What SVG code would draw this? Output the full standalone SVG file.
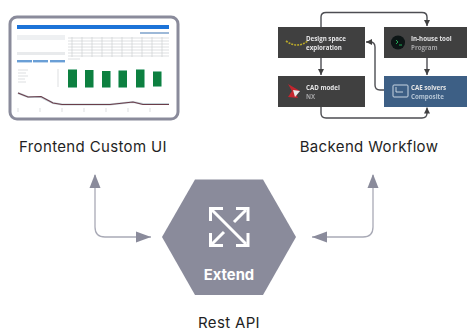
<svg xmlns="http://www.w3.org/2000/svg" width="471" height="332" viewBox="0 0 471 332">
<style>
.lbl{font-family:"Inter","Liberation Sans",sans-serif;font-size:15px;letter-spacing:.35px;fill:#1f1f24;text-anchor:middle}
.hx{font-family:"Inter","Liberation Sans",sans-serif;font-size:14.8px;font-weight:700;fill:#fff;text-anchor:middle}
.conn{fill:none;stroke:#a9aab6;stroke-width:1.3}
.wf{fill:none;stroke:#4d4e52;stroke-width:1.4}
.box{fill:#3f3f41}
.t1{font-family:"Open Sans","Liberation Sans",sans-serif;font-size:6.2px;font-weight:700;fill:#e6e6e6}
.t2{font-family:"Open Sans","Liberation Sans",sans-serif;font-size:6.2px;font-weight:700;fill:#a5a5a5}
.bar{fill:#0a8040}
.rule{stroke:#c8cacf;stroke-width:.6}
</style>
<defs>
<filter id="soft" x="-5%" y="-5%" width="110%" height="110%"><feGaussianBlur stdDeviation="0.5"/></filter>
<filter id="soft2" x="-5%" y="-5%" width="110%" height="110%"><feGaussianBlur stdDeviation="0.3"/></filter>
<marker id="w" viewBox="0 0 6 6" refX="6" refY="3" markerWidth="6" markerHeight="6" markerUnits="userSpaceOnUse" orient="auto"><path d="M0 0L6 3L0 6z" fill="#3f3f41"/></marker>
</defs>
<rect width="471" height="332" fill="#fff"/>

<g id="frontend">
<rect x="10" y="17" width="168" height="102" rx="7" fill="#fff" stroke="#8a8b9b" stroke-width="3"/>
<g filter="url(#soft)">
<rect x="17" y="25" width="152" height="4" fill="#1a73d8"/>
<rect x="140" y="32" width="29" height="2" fill="#9db9d8"/>
<rect x="17" y="35" width="48" height="5" fill="#eef0f2"/>
<rect x="17" y="52" width="48" height="3" fill="#e8eaec"/>
<rect x="17" y="60" width="15" height="2.4" fill="#6a9fd6"/><rect x="33" y="60" width="15" height="2.4" fill="#6a9fd6"/><rect x="50" y="60" width="15" height="2.4" fill="#6a9fd6"/>
<path class="rule" d="M68 38H169M68 41H169M68 44H169M68 47H169M68 50H169M68 53H169M68 56H169M72 37V57M82 37V57M92 37V57M102 37V57M112 37V57M122 37V57M132 37V57M142 37V57M152 37V57M162 37V57M68 59H80"/>
<path class="rule" d="M18 70H28M18 73H26M18 76H28M18 79H25M18 82H26M58 69V87M18 108V112M40 108V112M62 108V112M84 108V112M106 108V112M128 108V112M150 108V112"/>
<rect class="bar" x="68" y="69.500" width="9" height="18"/>
<rect class="bar" x="85" y="70" width="8.500" height="17.500"/>
<rect class="bar" x="102" y="71" width="8.500" height="16.500"/>
<rect class="bar" x="118.500" y="70.500" width="8.500" height="17"/>
<rect class="bar" x="136" y="69.500" width="8.500" height="18"/>
<rect class="bar" x="153" y="71.500" width="8.500" height="15"/>
<path d="M18 93L28 97H41L53 103L62 104.500H110L133 102L143 104H169" fill="none" stroke="#c6d3d8" stroke-width="2"/>
<path d="M18 93L28 97L41 96.500L53 103L62 104.500H110L133 102L143 104.500H169" fill="none" stroke="#6a3c4a" stroke-width="1.100"/>
</g>
</g>

<g id="backend-connectors" filter="url(#soft2)">
<path class="wf" d="M321 27V17Q321 12.500 326 12.500H422Q427 12.500 427 17V26" marker-end="url(#w)"/>
<path class="wf" d="M321 58V75" marker-end="url(#w)"/>
<path class="wf" d="M427 58V75" marker-end="url(#w)"/>
<path class="wf" d="M321 107V113Q321 118 326 118H422Q427 118 427 113V107.500" marker-end="url(#w)"/>
<path class="wf" d="M384 90H380Q375 90 375 85V47Q375 42 370 42H366" marker-end="url(#w)"/>
</g>
<g id="design-space" filter="url(#soft2)">
<rect class="box" x="278" y="27" width="87" height="31"/>
<path d="M286 41Q297 49 308 41" fill="none" stroke="#b9a82a" stroke-width="1.600" stroke-dasharray="2 1"/>
<text class="t1" x="306" y="41">Design space</text><text class="t1" x="306" y="49.500">exploration</text>
</g>
<g id="in-house" filter="url(#soft2)">
<rect class="box" x="384" y="27" width="83" height="31"/>
<circle cx="398" cy="42.500" r="7" fill="#0a1412"/>
<path d="M396 40L398 42L396 44M399 45H402" fill="none" stroke="#2fd06a" stroke-width=".8"/>
<text class="t1" x="411" y="41">In-house tool</text><text class="t2" x="411" y="49.500">Program</text>
</g>
<g id="cad-model" filter="url(#soft2)">
<rect class="box" x="278" y="76" width="87" height="31"/>
<path d="M288 84L300 91L295 92L298 98L288 97L292 91z" fill="#c4262e"/><path d="M293 90L300 91L295 97z" fill="#e8e8e8"/>
<text class="t1" x="306" y="90">CAD model</text><text class="t2" x="306" y="98.500">NX</text>
</g>
<g id="cae-solvers" filter="url(#soft2)">
<rect x="384" y="76" width="83" height="31" fill="#3d5f85"/>
<rect x="393" y="85" width="15" height="12" rx="1" fill="none" stroke="#c9d6e2" stroke-width="1"/>
<path d="M396 87V92H403" fill="none" stroke="#e6edf3" stroke-width=".8"/>
<text class="t1" x="411" y="90">CAE solvers</text><text class="t2" x="411" y="98.500" style="fill:#b5c5d5">Composite</text>
</g>

<g id="connectors">
<path class="conn" d="M151 237H105Q95 237 95 227V175"/>
<path d="M95 174L100.500 188H89.500z" fill="#8a8b9b"/>
<path d="M151 237L136 231.500V242.500z" fill="#8a8b9b"/>
<path class="conn" d="M312 237H363Q373 237 373 227V175"/>
<path d="M373 174L378.500 188H367.500z" fill="#8a8b9b"/>
<path d="M312 237L327 231.500V242.500z" fill="#8a8b9b"/>
</g>

<g id="extend">
<polygon points="162,237 195,179.500 263,179.500 296,237 263,295 195,295" fill="#8a8b9b"/>
<path d="M212 210L246 244" fill="none" stroke="#fff" stroke-width="3"/>
<path d="M246 210L234 222M212 244L224 232" fill="none" stroke="#fff" stroke-width="3"/>
<path d="M210.500 221V208.500H223M236 208.500H248V221M210.500 233V245.500H223M236 245.500H248V233" fill="none" stroke="#fff" stroke-width="3"/>
<text class="hx" x="229" y="280">Extend</text>
</g>

<g id="labels">
<text class="lbl" x="93" y="152">Frontend Custom UI</text>
<text class="lbl" x="369" y="152">Backend Workflow</text>
<text class="lbl" x="229" y="328">Rest API</text>
</g>
</svg>
